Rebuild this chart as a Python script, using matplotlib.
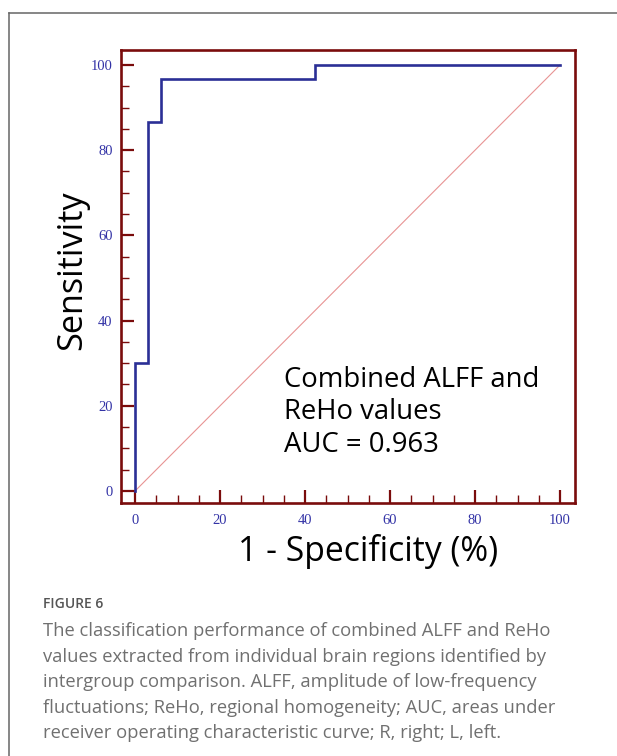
import matplotlib
matplotlib.use("Agg")
import matplotlib.pyplot as plt
from matplotlib.lines import Line2D
from matplotlib.ticker import MultipleLocator

# ROC curve
fpr = [0, 0, 3.0, 3.0, 6.1, 6.1, 42.4, 42.4, 100]
tpr = [0, 30, 30, 86.7, 86.7, 96.7, 96.7, 100, 100]
ticks = [0, 20, 40, 60, 80, 100]

note = "Combined ALFF and\nReHo values\nAUC = 0.963"
caption = ("The classification performance of combined ALFF and ReHo\n"
           "values extracted from individual brain regions identified by\n"
           "intergroup comparison. ALFF, amplitude of low-frequency\n"
           "fluctuations; ReHo, regional homogeneity; AUC, areas under\n"
           "receiver operating characteristic curve; R, right; L, left.")

spine_col = "#7a0c0c"
tick_col = "#3333a6"

fig = plt.figure(figsize=(6.17, 7.56), dpi=100)
ax = fig.add_axes([0.1961, 0.3347, 0.7358, 0.5992])

ax.plot([0, 100], [0, 100], color="#e89494", lw=0.8)
ax.plot(fpr, tpr, color="#2b2f96", lw=1.9, solid_joinstyle="miter")

ax.set_xlim(-3.3, 103.5)
ax.set_ylim(-2.8, 103.5)
ax.set_xticks(ticks)
ax.set_yticks(ticks)
ax.xaxis.set_minor_locator(MultipleLocator(5))
ax.yaxis.set_minor_locator(MultipleLocator(5))

for s in ax.spines.values():
    s.set_color(spine_col)
    s.set_linewidth(1.9)

ax.tick_params(which="major", direction="in", length=9.5, width=1.6,
               color=spine_col, labelcolor=tick_col, labelsize=10.5, pad=6)
ax.tick_params(axis="x", which="major", pad=8)
ax.tick_params(which="minor", direction="in", length=5.5, width=1.0,
               color=spine_col)
ax.tick_params(axis="x", which="both", top=False)
ax.tick_params(axis="y", which="both", right=False)
for lab in ax.get_xticklabels() + ax.get_yticklabels():
    lab.set_fontfamily("Liberation Serif")

ax.set_xlabel("1 - Specificity (%)", fontsize=24.3, family="Open Sans")
ax.xaxis.set_label_coords(0.545, -0.069)
ax.set_ylabel("Sensitivity", fontsize=24.7, family="Open Sans", labelpad=1)
ax.yaxis.label.set_y(0.514)

ax.text(35, 29.3, note, fontsize=19.8, family="Open Sans", va="top",
        ha="left", linespacing=1.2)

# outer frame of the figure panel
fig.add_artist(Line2D([9 / 617, 1], [1 - 12.5 / 756] * 2, color="#666666",
                      lw=1.1, transform=fig.transFigure))
fig.add_artist(Line2D([9 / 617] * 2, [0, 1 - 12.5 / 756], color="#666666",
                      lw=1.1, transform=fig.transFigure))

fig.text(43 / 617, 1 - 604 / 756, "FIGURE 6", fontsize=10, color="#555555",
         family="Open Sans", weight="semibold", va="center")
fig.text(43 / 617, 1 - 622.5 / 756, caption, fontsize=13.2, color="#707070",
         family="Open Sans", va="top", linespacing=1.53)

fig.savefig("out.png", dpi=100)
